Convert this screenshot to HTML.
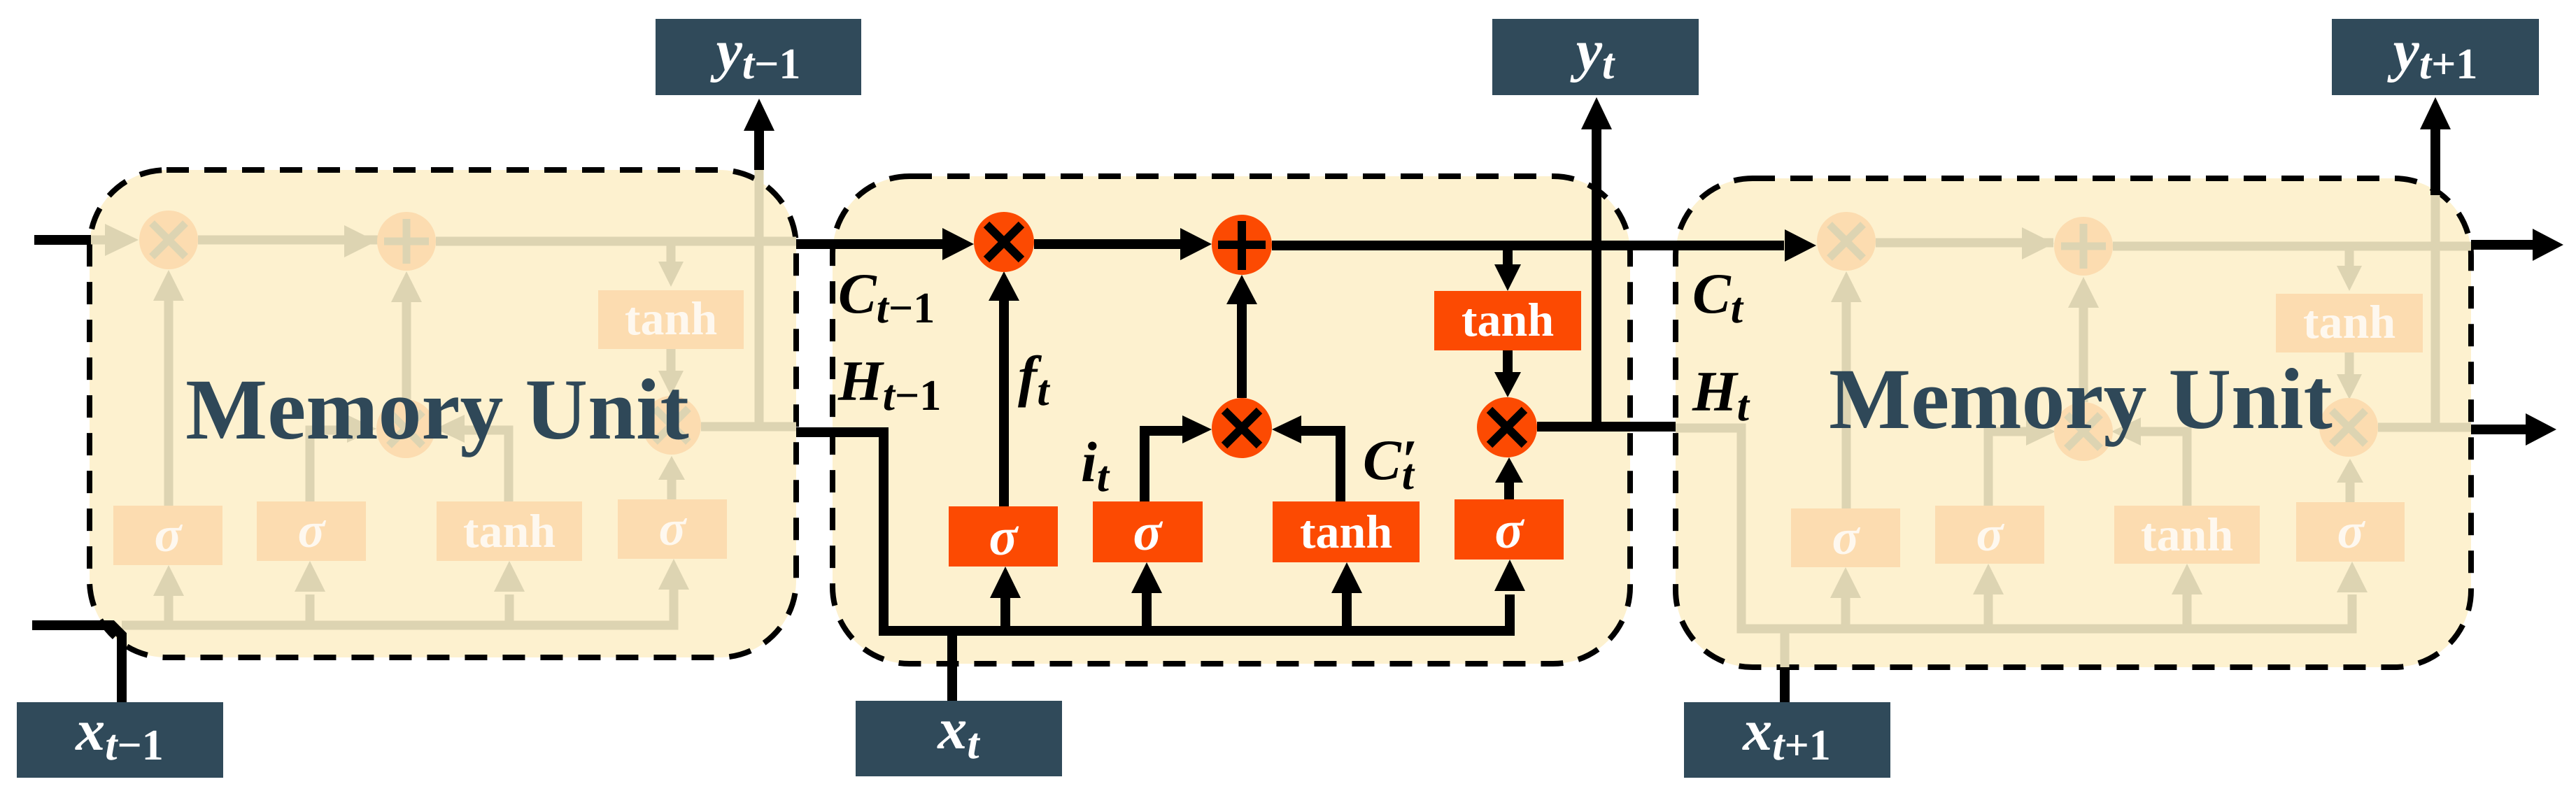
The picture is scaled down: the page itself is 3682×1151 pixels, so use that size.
<!DOCTYPE html>
<html><head><meta charset="utf-8"><style>
html,body{margin:0;padding:0;background:#fff;}
svg{display:block;}
.lab{font-family:"Liberation Serif",serif;font-weight:bold;font-style:italic;}
.mu{font-family:"Liberation Serif",serif;font-weight:bold;fill:#2f4858;font-size:124px;}
.bx{font-family:"Liberation Serif",serif;font-weight:bold;fill:#fff;}
.n{font-style:normal;}
</style></head><body>
<svg width="3682" height="1151" viewBox="0 0 3682 1151" xmlns="http://www.w3.org/2000/svg">
<rect x="128" y="243" width="1010" height="697" rx="110" fill="#fdf1cf" stroke="#000" stroke-width="8" stroke-dasharray="32,22"/>
<rect x="1190" y="252" width="1140" height="697" rx="110" fill="#fdf1cf" stroke="#000" stroke-width="8" stroke-dasharray="32,22"/>
<rect x="2395" y="255" width="1137" height="699" rx="110" fill="#fdf1cf" stroke="#000" stroke-width="8" stroke-dasharray="32,22"/>

<g stroke="#ddd4b2" stroke-width="13" fill="none">
<path d="M130,343 H160"/>
<path d="M283,343 H540"/>
<path d="M623,345 H1138"/>
<path d="M959,345 V375"/>
<path d="M959,499 V530"/>
<path d="M960,714 V685"/>
<path d="M581,571 V432"/>
<path d="M443,717 V615 H500"/>
<path d="M727,717 V615 H660"/>
<path d="M241,723 V430"/>
<path d="M1002,610 H1138"/>
<path d="M1085,610 V243"/>
<path d="M174,894 H963 V840"/>
<path d="M241,894 V850"/><path d="M443,894 V850"/><path d="M728,894 V850"/>
</g>
<g fill="#ddd4b2">
<polygon points="150,320 198,343 150,366"/>
<polygon points="492,322 538,345 492,368"/>
<polygon points="941,374 959,410 977,374"/>
<polygon points="941,530 959,566 977,530"/>
<polygon points="941,686 960,652 979,686"/>
<polygon points="559,432 581,388 603,432"/>
<polygon points="496,593 538,613 496,633"/>
<polygon points="664,593 622,613 664,633"/>
<polygon points="219,430 241,386 263,430"/>
<polygon points="219,852 241,808 263,852"/><polygon points="421,846 443,802 465,846"/>
<polygon points="706,846 728,802 750,846"/><polygon points="941,843 963,799 985,843"/>
</g>
<g fill="#fcdcb0">
<circle cx="241" cy="343" r="42"/><circle cx="581" cy="345" r="42"/>
<circle cx="580" cy="613" r="42"/><circle cx="960" cy="608" r="42"/>
<rect x="855" y="415" width="208" height="84"/>
<rect x="162" y="723" width="156" height="85"/><rect x="367" y="717" width="156" height="85"/>
<rect x="624" y="717" width="208" height="85"/><rect x="883" y="714" width="156" height="85"/>
</g>
<g stroke="#ddd4b2" stroke-width="11">
<path d="M217,319 L265,367 M265,319 L217,367"/>
<path d="M581,313 V377 M549,345 H613"/>
<path d="M556,589 L604,637 M604,589 L556,637"/>
<path d="M936,584 L984,632 M984,584 L936,632"/>
</g>
<g class="bx" style="opacity:0.8">
<text x="959" y="478" font-size="68" text-anchor="middle">tanh</text>
<text x="240" y="788" font-size="72" text-anchor="middle" font-style="italic">σ</text>
<text x="445" y="782" font-size="72" text-anchor="middle" font-style="italic">σ</text>
<text x="728" y="782" font-size="68" text-anchor="middle">tanh</text>
<text x="961" y="779" font-size="72" text-anchor="middle" font-style="italic">σ</text>
</g>
<text class="mu" x="625" y="627" text-anchor="middle">Memory Unit</text>

<g stroke="#ddd4b2" stroke-width="13" fill="none">
<path d="M2681,347 H2935"/>
<path d="M3020,352 H3532"/>
<path d="M3358,352 V380"/>
<path d="M3358,504 V535"/>
<path d="M3359,718 V690"/>
<path d="M2978,575 V440"/>
<path d="M2842,723 V617 H2900"/>
<path d="M3126,723 V617 H3060"/>
<path d="M2639,727 V432"/>
<path d="M3399,611 H3532"/>
<path d="M3481,611 V279"/>
<path d="M2395,612 H2489 V899 H3362 V850"/>
<path d="M2551,899 V954"/>
<path d="M2638,899 V855"/><path d="M2842,899 V850"/><path d="M3126,899 V850"/>
</g>
<g fill="#ddd4b2">
<polygon points="2890,325 2936,348 2890,371"/>
<polygon points="3340,380 3358,416 3376,380"/>
<polygon points="3340,535 3358,571 3376,535"/>
<polygon points="3340,690 3359,656 3378,690"/>
<polygon points="2956,440 2978,396 3000,440"/>
<polygon points="2896,597 2938,617 2896,637"/>
<polygon points="3060,597 3018,617 3060,637"/>
<polygon points="2617,432 2639,388 2661,432"/>
<polygon points="2616,855 2638,811 2660,855"/><polygon points="2820,850 2842,806 2864,850"/>
<polygon points="3104,850 3126,806 3148,850"/><polygon points="3340,847 3362,803 3384,847"/>
</g>
<g fill="#fcdcb0">
<circle cx="2639" cy="345" r="42"/><circle cx="2978" cy="352" r="42"/>
<circle cx="2978" cy="617" r="42"/><circle cx="3357" cy="611" r="42"/>
<rect x="3253" y="420" width="210" height="84"/>
<rect x="2560" y="727" width="156" height="84"/><rect x="2766" y="723" width="156" height="83"/>
<rect x="3022" y="723" width="208" height="83"/><rect x="3282" y="718" width="155" height="85"/>
</g>
<g stroke="#ddd4b2" stroke-width="11">
<path d="M2615,321 L2663,369 M2663,321 L2615,369"/>
<path d="M2978,320 V384 M2946,352 H3010"/>
<path d="M2954,593 L3002,641 M3002,593 L2954,641"/>
<path d="M3333,587 L3381,635 M3381,587 L3333,635"/>
</g>
<g class="bx" style="opacity:0.8">
<text x="3358" y="483" font-size="68" text-anchor="middle">tanh</text>
<text x="2638" y="792" font-size="72" text-anchor="middle" font-style="italic">σ</text>
<text x="2844" y="787" font-size="72" text-anchor="middle" font-style="italic">σ</text>
<text x="3126" y="787" font-size="68" text-anchor="middle">tanh</text>
<text x="3360" y="783" font-size="72" text-anchor="middle" font-style="italic">σ</text>
</g>
<text class="mu" x="2974" y="612" text-anchor="middle">Memory Unit</text>

<g stroke="#000" stroke-width="14" fill="none">
<path d="M49,343 H130"/>
<path d="M46,894 H160 L174,908 V1004"/>
<path d="M1085,243 V185"/>
<path d="M1138,349 H1350"/>
<path d="M1478,349 H1690"/>
<path d="M1818,351 H2550"/>
<path d="M2155,351 V380"/>
<path d="M2155,501 V535"/>
<path d="M2157,714 V690"/>
<path d="M2197,610 H2395"/>
<path d="M2282,610 V180"/>
<path d="M1775,569 V430"/>
<path d="M1636,717 V616 H1695"/>
<path d="M1916,717 V616 H1855"/>
<path d="M1435,724 V425"/>
<path d="M1138,618 H1263 V902 H2158 V850"/>
<path d="M1361,902 V1002"/>
<path d="M1437,902 V850"/><path d="M1639,902 V845"/><path d="M1925,902 V845"/>
<path d="M2551,954 V1004"/>
<path d="M3481,279 V180"/>
<path d="M3532,350 H3625"/>
<path d="M3532,614 H3615"/>
</g>
<g fill="#000">
<polygon points="1063,187 1085,141 1107,187"/>
<polygon points="1347,326 1392,349 1347,372"/>
<polygon points="1687,326 1732,349 1687,372"/>
<polygon points="2551,328 2596,351 2551,374"/>
<polygon points="2136,378 2155,416 2174,378"/>
<polygon points="2136,532 2155,568 2174,532"/>
<polygon points="2137,690 2157,654 2177,690"/>
<polygon points="2260,185 2282,139 2304,185"/>
<polygon points="1753,435 1775,393 1797,435"/>
<polygon points="1690,594 1732,614 1690,634"/>
<polygon points="1860,594 1818,614 1860,634"/>
<polygon points="1413,430 1435,388 1457,430"/>
<polygon points="1415,855 1437,810 1459,855"/><polygon points="1617,848 1639,804 1661,848"/>
<polygon points="1903,848 1925,804 1947,848"/><polygon points="2136,845 2158,800 2180,845"/>
<polygon points="3459,185 3481,139 3503,185"/>
<polygon points="3620,327 3664,350 3620,373"/>
<polygon points="3610,591 3654,614 3610,637"/>
</g>
<g fill="#fc4a02">
<circle cx="1435" cy="346" r="43"/><circle cx="1775" cy="350" r="43"/>
<circle cx="1775" cy="612" r="43"/><circle cx="2154" cy="611" r="43"/>
<rect x="2050" y="416" width="210" height="85"/>
<rect x="1356" y="724" width="156" height="86"/><rect x="1562" y="717" width="157" height="87"/>
<rect x="1819" y="717" width="210" height="87"/><rect x="2079" y="714" width="156" height="86"/>
</g>
<g stroke="#000" stroke-width="12">
<path d="M1410,321 L1460,371 M1460,321 L1410,371"/>
<path d="M1775,316 V386 M1741,350 H1809"/>
<path d="M1750,587 L1800,637 M1800,587 L1750,637"/>
<path d="M2129,586 L2179,636 M2179,586 L2129,636"/>
</g>
<g class="bx">
<text x="2155" y="480" font-size="68" text-anchor="middle">tanh</text>
<text x="1434" y="793" font-size="76" text-anchor="middle" font-style="italic">σ</text>
<text x="1640" y="786" font-size="76" text-anchor="middle" font-style="italic">σ</text>
<text x="1924" y="783" font-size="68" text-anchor="middle">tanh</text>
<text x="2157" y="783" font-size="76" text-anchor="middle" font-style="italic">σ</text>
</g>
<g class="lab" fill="#000">
<text x="1198" y="447" font-size="82">C<tspan font-size="62" dy="14">t</tspan><tspan class="n" font-size="62">−1</tspan></text>
<text x="1198" y="572" font-size="82">H<tspan font-size="62" dy="14">t</tspan><tspan class="n" font-size="62">−1</tspan></text>
<text x="1455" y="565" font-size="82">f<tspan font-size="62" dy="14">t</tspan></text>
<text x="1545" y="688" font-size="82">i<tspan font-size="62" dy="14">t</tspan></text>
<text x="1948" y="685" font-size="82">C′<tspan font-size="62" dy="14" dx="-22">t</tspan></text>
<text x="2419" y="447" font-size="82">C<tspan font-size="62" dy="14">t</tspan></text>
<text x="2419" y="587" font-size="82">H<tspan font-size="62" dy="14">t</tspan></text>
</g>
<g fill="#304a5a">
<rect x="937" y="27" width="294" height="109"/>
<rect x="2133" y="27" width="295" height="109"/>
<rect x="3333" y="27" width="296" height="109"/>
<rect x="24" y="1004" width="295" height="108"/>
<rect x="1223" y="1002" width="295" height="108"/>
<rect x="2407" y="1004" width="295" height="108"/>
</g>
<g class="lab" fill="#fff" text-anchor="middle">
<text x="1084" y="100" font-size="84">y<tspan font-size="62" dy="12">t</tspan><tspan class="n" font-size="62">−1</tspan></text>
<text x="2280" y="100" font-size="84">y<tspan font-size="62" dy="12">t</tspan></text>
<text x="3481" y="100" font-size="84">y<tspan font-size="62" dy="12">t</tspan><tspan class="n" font-size="62">+1</tspan></text>
<text x="171" y="1072" font-size="84">x<tspan font-size="62" dy="14">t</tspan><tspan class="n" font-size="62">−1</tspan></text>
<text x="1370" y="1070" font-size="84">x<tspan font-size="62" dy="14">t</tspan></text>
<text x="2554" y="1072" font-size="84">x<tspan font-size="62" dy="14">t</tspan><tspan class="n" font-size="62">+1</tspan></text>
</g>
</svg>
</body></html>
